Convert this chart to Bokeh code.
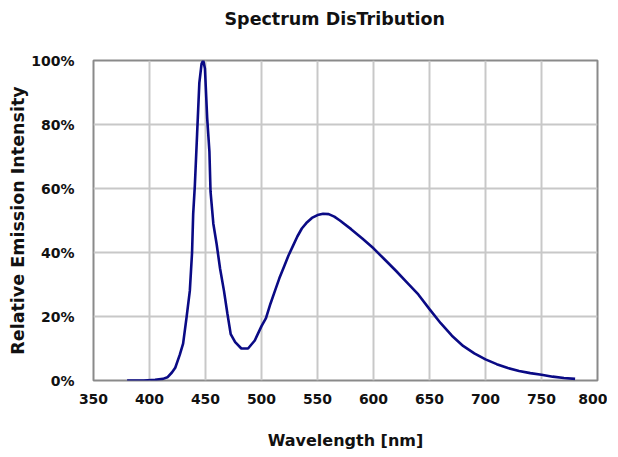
from bokeh.plotting import figure
from bokeh.models import Range1d, FixedTicker, Title
from bokeh.embed import file_html
from bokeh.resources import INLINE

# Data
wavelength = [380, 395, 405, 412, 416, 420, 423, 427, 430, 433, 436, 438, 439,
              440.5, 442.5, 444.5, 446.5, 448, 449.5, 451.5, 453.5, 454.5, 457,
              460, 463, 466.5, 469.5, 472.5, 476.5, 482, 488, 494, 500, 504,
              508, 512, 516, 520, 524, 528, 532, 536, 540, 545, 550, 555, 560,
              565, 570, 580, 590, 600, 610, 620, 630, 640, 650, 660, 670, 680,
              690, 700, 710, 720, 730, 740, 750, 760, 770, 780]
intensity = [0, 0, 0.2, 0.5, 1, 2.5, 4, 8, 11.5, 19.5, 28, 40, 52,
             61, 77, 93, 99, 100, 97.5, 82, 71.5, 59, 49,
             42.5, 35, 28, 21, 14.5, 12, 10, 10, 12.5, 17, 19.5,
             24, 28, 32, 35.5, 39, 42, 45, 47.5, 49.2, 50.8, 51.7, 52.1, 52,
             51.2, 50, 47.3, 44.4, 41.3, 37.8, 34.3, 30.6, 26.9, 22.3, 17.9, 14, 10.8,
             8.5, 6.6, 5.1, 3.9, 3.0, 2.3, 1.8, 1.2, 0.8, 0.5]

x_ticks = [350, 400, 450, 500, 550, 600, 650, 700, 750, 800]
y_ticks = [0, 20, 40, 60, 80, 100]
y_tick_labels = ["0%", "20%", "40%", "60%", "80%", "100%"]

title_text = "Spectrum DisTribution"
x_label = "Wavelength [nm]"
y_label = "Relative Emission Intensity"

FONT = "DejaVu Sans"

p = figure(frame_width=504, frame_height=320, output_backend="svg",
           toolbar_location=None,
           x_range=Range1d(350, 800), y_range=Range1d(0, 100),
           min_border_left=93, min_border_right=10, min_border_top=60,
           min_border_bottom=69, background_fill_color="white",
           border_fill_color="white")

# spacer between title and frame (nearest to the frame)
p.add_layout(Title(text=" ", text_font_size="10px", standoff=10), "above")

p.title.text = title_text
p.title.align = "left"
p.title.offset = 131
p.title.vertical_align = "top"
p.title.text_font = FONT
p.title.text_font_size = "17.5px"
p.title.text_font_style = "bold"
p.title.text_color = "#111111"
p.title.standoff = 14

p.line(wavelength, intensity, line_color="#0a0a85", line_width=2.6)

p.outline_line_color = "#8a8a8a"
p.outline_line_width = 2

p.xaxis.ticker = FixedTicker(ticks=x_ticks)
p.yaxis.ticker = FixedTicker(ticks=y_ticks)
p.yaxis.major_label_overrides = {t: l for t, l in zip(y_ticks, y_tick_labels)}

for ax in (p.xaxis, p.yaxis):
    ax.axis_line_color = None
    ax.major_tick_line_color = None
    ax.minor_tick_line_color = None
    ax.major_label_text_font = FONT
    ax.major_label_text_font_size = "14px"
    ax.major_label_text_font_style = "bold"
    ax.major_label_text_color = "#111111"
    ax.axis_label_text_font = FONT
    ax.axis_label_text_font_style = "bold"
    ax.axis_label_text_color = "#111111"

p.xaxis.axis_label = x_label
p.yaxis.axis_label = y_label
p.xaxis.axis_label_text_font_size = "16px"
p.yaxis.axis_label_text_font_size = "17.5px"
p.xaxis.major_label_standoff = 7
p.yaxis.major_label_standoff = 13
p.xaxis.axis_label_standoff = 24
p.yaxis.axis_label_standoff = 0

p.xgrid.grid_line_color = "#c8c8c8"
p.ygrid.grid_line_color = "#c8c8c8"
p.xgrid.grid_line_width = 2
p.ygrid.grid_line_width = 2

open("out.html", "w").write(file_html(p, INLINE))
